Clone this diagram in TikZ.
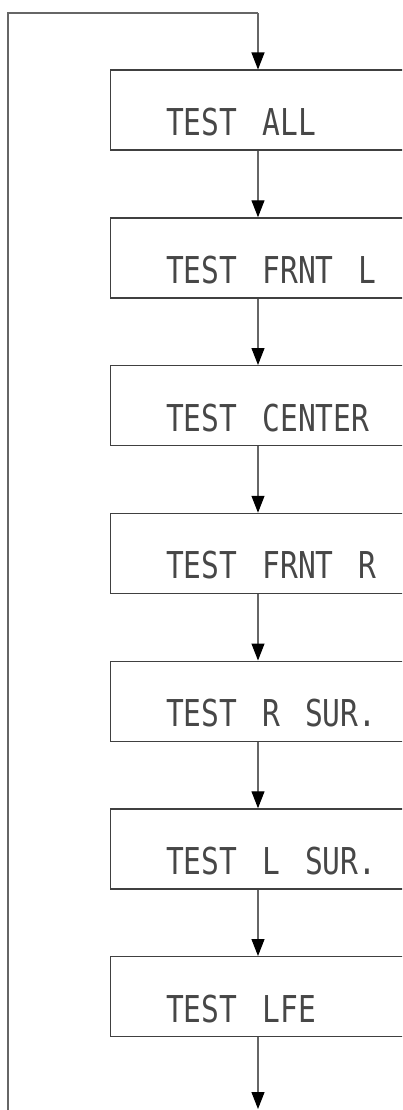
\documentclass[tikz,border=0pt]{standalone}
\usepackage{fontspec}
\newfontfamily\lcd[WordSpace=1.4]{DejaVu Sans Mono}
\usetikzlibrary{arrows.meta}
\tikzset{
  box/.style={draw=black!75, line width=1.3pt, minimum width=340pt, minimum height=80pt, anchor=north west, inner sep=0pt},
  lbl/.style={anchor=base west, inner sep=0pt, text=black!72, font=\lcd\fontsize{37}{40}\selectfont, xscale=0.8, transform shape},
  conn/.style={draw=black!60, line width=1.1pt, -{Triangle[length=17pt,width=13pt,fill=black,color=black]}},
  loop/.style={draw=black!60, line width=1.1pt}
}
\begin{document}
\begin{tikzpicture}[x=1pt,y=-1pt]
\useasboundingbox (0,0) rectangle (402,1110);
\clip (0,0) rectangle (402,1110);
\foreach \i/\t in {1/TEST ALL,2/TEST FRNT L,3/TEST CENTER,4/TEST FRNT R,5/TEST R SUR.,6/TEST L SUR.,7/TEST LFE}{
  \node[box] (b\i) at (110,{69.5+(\i-1)*147.75}) {};
  \node[lbl] (t\i) at (166,{69.5+(\i-1)*147.75+66}) {\t};
}
\coordinate (c0) at (8,1110);
\coordinate (c1) at (8,13);
\coordinate (c2) at (258,13);
\coordinate (end) at (258,1109);
\draw[loop] (c0) -- (c1) -- (c2);
\draw[conn] (c2) -- (c2 |- b1.north);
\foreach \i [evaluate=\i as \j using int(\i+1)] in {1,...,6}{
  \draw[conn] (c2 |- b\i.south) -- (c2 |- b\j.north);
}
\draw[conn] (c2 |- b7.south) -- (end);
\end{tikzpicture}
\end{document}
